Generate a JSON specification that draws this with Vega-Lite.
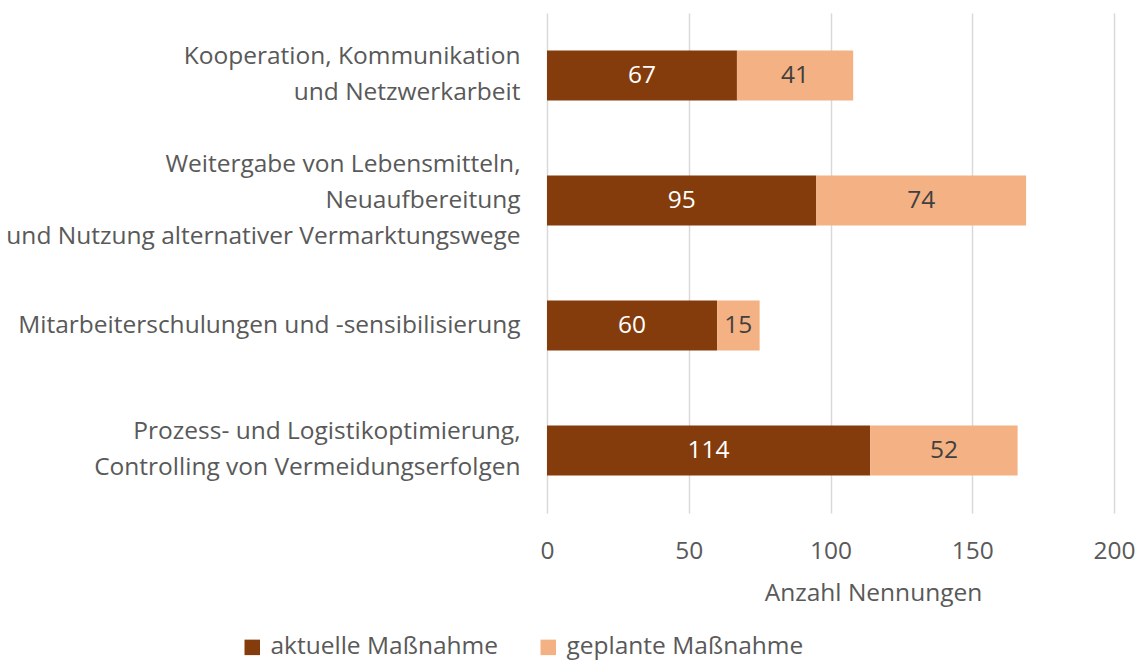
{
  "$schema": "https://vega.github.io/schema/vega-lite/v6.json",
  "autosize": "none",
  "width": 567,
  "height": 500,
  "padding": {"left": 547, "top": 13, "right": 25, "bottom": 151},
  "background": "white",
  "config": {
    "font": "Open Sans",
    "view": {"stroke": null}
  },
  "data": {
    "values": [
      {"kategorie": "Kooperation, Kommunikation|und Netzwerkarbeit", "art": "aktuelle Maßnahme", "ord": 1, "anzahl": 67},
      {"kategorie": "Kooperation, Kommunikation|und Netzwerkarbeit", "art": "geplante Maßnahme", "ord": 2, "anzahl": 41},
      {"kategorie": "Weitergabe von Lebensmitteln,|Neuaufbereitung|und Nutzung alternativer Vermarktungswege", "art": "aktuelle Maßnahme", "ord": 1, "anzahl": 95},
      {"kategorie": "Weitergabe von Lebensmitteln,|Neuaufbereitung|und Nutzung alternativer Vermarktungswege", "art": "geplante Maßnahme", "ord": 2, "anzahl": 74},
      {"kategorie": "Mitarbeiterschulungen und -sensibilisierung", "art": "aktuelle Maßnahme", "ord": 1, "anzahl": 60},
      {"kategorie": "Mitarbeiterschulungen und -sensibilisierung", "art": "geplante Maßnahme", "ord": 2, "anzahl": 15},
      {"kategorie": "Prozess- und Logistikoptimierung,|Controlling von Vermeidungserfolgen", "art": "aktuelle Maßnahme", "ord": 1, "anzahl": 114},
      {"kategorie": "Prozess- und Logistikoptimierung,|Controlling von Vermeidungserfolgen", "art": "geplante Maßnahme", "ord": 2, "anzahl": 52}
    ]
  },
  "transform": [
    {"stack": "anzahl", "groupby": ["kategorie"], "sort": [{"field": "ord", "order": "ascending"}], "as": ["x0", "x1"]},
    {"calculate": "(datum.x0 + datum.x1) / 2", "as": "xm"}
  ],
  "encoding": {
    "y": {
      "field": "kategorie",
      "type": "nominal",
      "sort": null,
      "scale": {"paddingInner": 0.6, "paddingOuter": 0.3},
      "axis": {
        "title": null,
        "domain": false,
        "ticks": false,
        "labelExpr": "split(datum.label, '|')",
        "labelFont": "Open Sans",
        "labelFontSize": 24.5,
        "labelColor": "#595959",
        "labelLineHeight": 36,
        "labelPadding": 27,
        "labelLimit": 600,
        "labelOffset": {
          "condition": [
            {"test": "length(split(datum.label, '|')) == 3", "value": -36},
            {"test": "length(split(datum.label, '|')) == 2", "value": -19}
          ],
          "value": 0
        }
      }
    }
  },
  "layer": [
    {
      "mark": {"type": "bar"},
      "encoding": {
        "x": {
          "field": "x0",
          "type": "quantitative",
          "scale": {"domain": [0, 200], "nice": false},
          "axis": {
            "title": "Anzahl Nennungen",
            "values": [0, 50, 100, 150, 200],
            "grid": true,
            "gridColor": "#D9D9D9",
            "gridWidth": 1.5,
            "domain": false,
            "ticks": false,
            "tickSize": 0,
            "labelFont": "Open Sans",
            "labelFontSize": 24.5,
            "labelColor": "#595959",
            "labelBaseline": "middle",
            "labelPadding": 38,
            "labelFlush": false,
            "titleFont": "Open Sans",
            "titleFontSize": 24.5,
            "titleFontWeight": "normal",
            "titleColor": "#595959",
            "titleBaseline": "middle",
            "titleAlign": "center",
            "titleX": 326,
            "titleY": 80
          }
        },
        "x2": {"field": "x1"},
        "color": {
          "field": "art",
          "type": "nominal",
          "scale": {"domain": ["aktuelle Maßnahme", "geplante Maßnahme"], "range": ["#843C0C", "#F4B183"]},
          "legend": {
            "title": null,
            "orient": "none",
            "direction": "horizontal",
            "legendX": -307,
            "legendY": 622,
            "symbolType": "square",
            "symbolSize": 240,
            "symbolStrokeWidth": 0,
            "labelFont": "Open Sans",
            "labelFontSize": 24.5,
            "labelColor": "#595959",
            "labelOffset": 6,
            "columnPadding": 38,
            "labelLimit": 400
          }
        }
      }
    },
    {
      "mark": {"type": "text", "fontSize": 24.5, "font": "Open Sans", "baseline": "middle", "align": "center"},
      "encoding": {
        "x": {"field": "xm", "type": "quantitative"},
        "text": {"field": "anzahl", "type": "quantitative"},
        "color": {
          "condition": {"test": "datum.ord === 1", "value": "#FFFFFF"},
          "value": "#404040"
        }
      }
    }
  ]
}
